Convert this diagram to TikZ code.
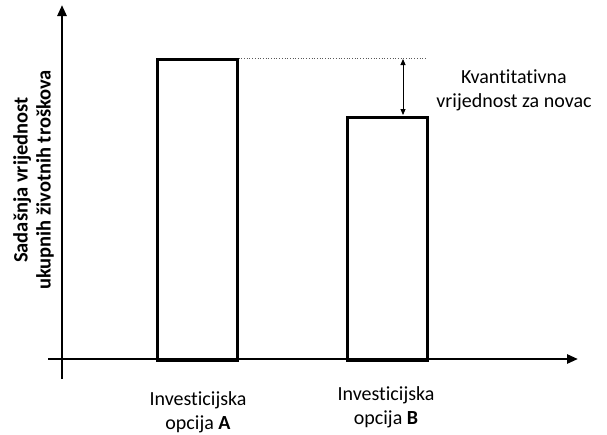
\documentclass[tikz,border=0pt]{standalone}
\usepackage{fontspec}
\setmainfont{Carlito}[Ligatures={NoCommon}]
\usetikzlibrary{arrows.meta}
\begin{document}
\begin{tikzpicture}[x=1pt,y=-1pt,
  axis/.style={line width=2.6pt,-{Triangle[length=11pt,width=9pt]}},
  bar/.style={draw,line width=2.6pt,fill=none},
  lbl/.style={font=\fontsize{20}{23.5}\selectfont,align=center,inner sep=0pt},
  ylbl/.style={font=\fontsize{20.5}{23}\selectfont\bfseries,align=center,inner sep=0pt,rotate=90},
  gap/.style={line width=0.9pt,{Triangle[length=6pt,width=5pt]}-{Triangle[length=6pt,width=5pt]}},
  guide/.style={line width=0.7pt,dotted,gray!70!black}]
\useasboundingbox (0,0) rectangle (607,434);
% axes
\coordinate (xs) at (48,359);
\coordinate (xe) at (578,359);
\coordinate (ys) at (62,379);
\coordinate (ye) at (62,5);
\draw[axis] (xs) -- (xe);
\draw[axis] (ys) -- (ye);
% bars
\node[bar,minimum width=80pt,minimum height=301pt,inner sep=0pt,anchor=north west] (barA) at (156,58) {};
\node[bar,minimum width=80pt,minimum height=243pt,inner sep=0pt,anchor=north west] (barB) at (346,116) {};
% guide and difference arrow
\coordinate (gend) at (426,58);
\draw[guide] (barA.north east) -- (gend);
\coordinate (gtop) at (403,59);
\coordinate (gbot) at (403,115);
\draw[gap] (gtop) -- (gbot);
% texts
\node[lbl,anchor=base] (kv) at (514,107) {Kvantitativna\\vrijednost za novac};
\node[lbl,anchor=base] (la) at (198,429) {Investicijska\\opcija \textbf{A}};
\node[lbl,anchor=base] (lb) at (386,424) {Investicijska\\opcija \textbf{B}};
\node[ylbl] (yl) at (33.5,180) {Sadašnja vrijednost\\ukupnih životnih troškova};
\end{tikzpicture}
\end{document}
